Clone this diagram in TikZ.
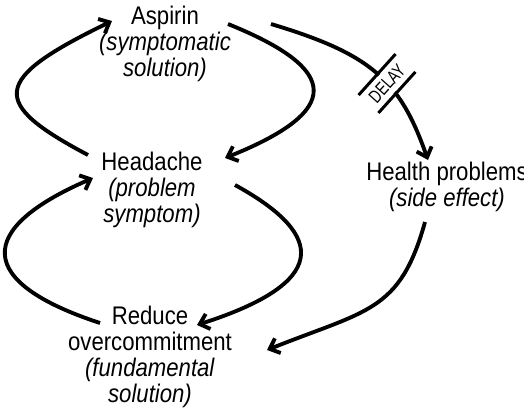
\documentclass[tikz,border=0pt]{standalone}
\usepackage{fontspec}
\setmainfont{Liberation Sans}[FakeStretch=0.87]
\newfontfamily\delayfont{Liberation Sans}[FakeStretch=0.75]
\usetikzlibrary{arrows.meta}
\usetikzlibrary{calc}

\begin{document}
\begin{tikzpicture}[x=0.02cm, y=-0.02cm]
    \tikzstyle{term}=[align=center, inner sep=0pt,
            font=\fontsize{14.5}{14.8}\selectfont]
    \tikzstyle{link}=[line width=2.2pt,
            -{Straight Barb[length=5pt, width=9pt]}]
    \tikzstyle{delaybox}=[fill=white, inner xsep=2pt, inner ysep=0pt,
            minimum height=13pt, rotate=48,
            font=\delayfont\fontsize{10.5}{11}\selectfont]

    \useasboundingbox (0,0) rectangle (524,410);

    \node[term] (asp) at (165,44)
        {Aspirin\\\textit{(symptomatic}\\\textit{solution)}};
    \node[term] (head) at (152,190)
        {Headache\\\textit{(problem}\\\textit{symptom)}};
    \node[term] (health) at (447,187)
        {Health problems\\\textit{(side effect)}};
    \node[term] (reduce) at (150,357)
        {Reduce\\overcommitment\\\textit{(fundamental}\\\textit{solution)}};

    % symptomatic loop
    \draw[link] ($(head)+(-64,-35)$) .. controls +(-98,-52) and +(-122,59)
        .. ($(asp)+(-53,-23)$);
    \draw[link] ($(asp)+(63,-20)$) .. controls +(114,46) and +(117,-47)
        .. ($(head)+(73,-32)$);

    % side effect, with delay
    \draw[link] ($(asp)+(106,-20)$) .. controls +(100,30) and +(-28,-80)
        .. ($(health)+(-19,-27)$) node[delaybox, pos=0.58] (delay) {DELAY};
    \draw[line width=1.7pt] (delay.north west) -- (delay.north east)
        (delay.south west) -- (delay.south east);
    \draw[link] ($(health)+(-22,35)$) .. controls +(-25,90) and +(100,-40)
        .. ($(reduce)+(117,-7)$);

    % fundamental loop
    \draw[link] ($(head)+(83,-5)$) .. controls +(93,51) and +(131,-42)
        .. ($(reduce)+(47,-32)$);
    \draw[link] ($(reduce)+(-50,-34)$) .. controls +(-125,-41) and +(-118,51)
        .. ($(head)+(-59,-12)$);
\end{tikzpicture}
\end{document}
